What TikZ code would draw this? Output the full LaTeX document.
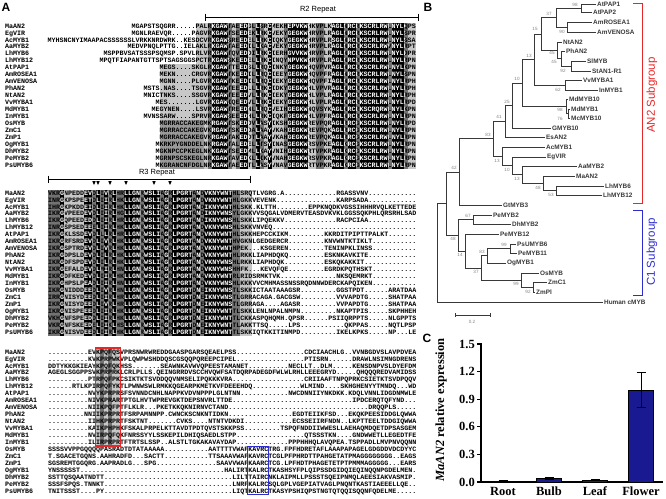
\documentclass[tikz,border=0pt]{standalone}
\usepackage{fontspec}
\setmainfont{Liberation Serif}
\setsansfont{Liberation Sans}
\newfontfamily\seqfont{Liberation Mono}
\definecolor{shadelt}{gray}{0.78}
\definecolor{shademd}{gray}{0.6}
\definecolor{shadedk}{gray}{0.45}
\definecolor{an2red}{RGB}{230,40,40}
\definecolor{clblue}{RGB}{45,45,205}
\definecolor{barblue}{RGB}{25,25,145}
\definecolor{treegray}{gray}{0.22}
\tikzset{
  seqtext/.style={font=\seqfont\bfseries\fontsize{6.67}{7}\selectfont, inner sep=0pt, text height=4.6pt, text depth=0.4pt},
  leaf/.style={font=\sffamily\bfseries\fontsize{6.4}{7}\selectfont, text=treegray, anchor=west, inner sep=1.2pt},
  boot/.style={font=\sffamily\fontsize{4.6}{5}\selectfont, text=gray, inner sep=0pt},
  branch/.style={draw=treegray, line width=0.75pt},
  panel/.style={font=\sffamily\bfseries\fontsize{12}{14}\selectfont, inner sep=0pt},
}
% alignment rows, stored by block and row
\newcommand{\defseq}[3]{\expandafter\def\csname seq#1#2\endcsname{#3}}
\def\taxa{MaAN2,EgVIR,AcMYB1,AaMYB2,LhMYB6,LhMYB12,AtPAP1,AmROSEA1,AmVENOSA,PhAN2,NtAN2,VvMYBA1,MdMYB1,InMYB1,OsMYB,ZmC1,ZmP1,OgMYB1,DhMYB2,PeMYB2,PsUMYB6}
% block 1 (R2)
\defseq{A}{1}{MGAPSTSQGRR.....PALRKGAWTAEEDGLLSRCMEKHEPVKWHKVPLKAGLNRCRKSCRLRWLNYLQPS}
\defseq{A}{2}{MGNLRAEVQR.....PAGVRKGAWTSEEDEKLRKCVEKYGEGKWHRVPLRAGLNRCRKSCRLRWLNYLSPR}
\defseq{A}{3}{MYHSNCNYIMAAPACSSSSSSLVRKKNRDWRK..KESDCVRKGAWSREEDELLRKCIQKYGEGKWHRVPLRSGLNRCRKSCRLRWLNYLSSA}
\defseq{A}{4}{MEDVPNQLPTTG..IELAKLRKGAWTAEEDILLKACVEKYGEGKWHRVPLRAGLNRCRKSCRLRWVNYLRPT}
\defseq{A}{5}{MSPPBVSATSSSPSQMSP.SPVLRLVRKGAWTQVEDDILRKCIERHGVVKWHRVPLRAGLNRCRKSCRLRWLNYLDPR}
\defseq{A}{6}{MPQTFIAPANTGTTSPTSAGSGGSPCTRKGAWSKEEDELLRKCINQYNPVKWHRVPLRAGLNRCRKSCRLRWLNYLRPN}
\defseq{A}{7}{MEGS....SKGLRKGAWTTEEDSLLRQCINKYGEGKWHQVPVRAGLNRCRKSCRLRWLNYLKPN}
\defseq{A}{8}{MEKN....CRGVRKGAWTKEEDILLRQCIEEYGEGKWHQVPFRAGLNRCRKSCRLRWLNYLSPN}
\defseq{A}{9}{MGNN....PLGVRKGAWTKEEDILLRQCIEKYGEGKWHQVPFIAGLNRCRKSCRLRWLNYLRPH}
\defseq{A}{10}{MSTS.NAS....TSGVRKGAWTEEEDLLLRKCIDKYGEGKWHLVPVRAGLNRCRKSCRLRWLNYLRPH}
\defseq{A}{11}{MNICTNKS....SSGVRKGAWTEEEDVLLRKCIEKYGEGKWHLVPLRAGLNRCRKSCRLRWLNYLRPH}
\defseq{A}{12}{MES.......LGVRKGAWIQEEDVLLRKCIEKYGEGKWHLVPLRAGLNRCRKSCRLRWLNYLRPD}
\defseq{A}{13}{MEGYNEN....LSVRKGAWTREEDNLLRQCVEIHGEGKWNQVSYKAGLNRCRKSCRQRWLNYLKPN}
\defseq{A}{14}{MVNSSARW....SPRVRKGAWSEEEDHLLRKCIQKFGEGKWHLVPFRAGLNRCRKSCRLRWLNYLRPN}
\defseq{A}{15}{MGRRACCAKEGMKRGAWTSKEDDVLASYIKSHGEGKWREVPQRAGLRRCGKSCRLRWLNYLRPD}
\defseq{A}{16}{MGRRACCAKEGVKRGAWTSKEDDALAAYVKAHGEGKWREVPQKAGLRRCGKSCRLRWLNYLRPN}
\defseq{A}{17}{MGRRACCAKEGVKRGAWTAKEDDTLAAYVKAHGEGKWREVPQKAGLRRCGKSCRLRWLNYLRPN}
\defseq{A}{18}{MKRKPYGNDDELNKRGAWTALEDELLTSYINASGEGKWRSVPKEAGLKRCGKSCRLRWLNYLRPN}
\defseq{A}{19}{MGKNPCCPKEGLNKKGAWTSEEDMLLKAYVNIHGEGKWRTVPKRAGLKRCGKSCRLRWLNYLRPN}
\defseq{A}{20}{MGRNPSCSKEGLNRKGAWTAVEDKLLIKYVNAHGEGKWRSVPKRAGLKRCGKSCRLRWLNYLRPN}
\defseq{A}{21}{MKGRANCNFDGLNRKGAWTAEEDTLLASYVNAVGEGKWRTVPKRAGLKRCGKSCRLRWLNYLRPN}
% block 2 (R3)
\defseq{B}{1}{VKRGNPEDDEVDLIVRLHRLLGNRWSLIAGRLPGRTANDVKNYWNTHL%
SRQTLVGRG.A...........%
..RGASSVNV............}
\defseq{B}{2}{INRGKPSPEETDLIIRLHKLLGNRWSLIAGRLPGRTANDVKNYWNTHL%
GKKVEVENK.............%
..KARPSADA............}
\defseq{B}{3}{IHRGKPKDDEIDLIIRLHKLLGNRWSLIAGRLPGRTANDIKNYWNTHL%
SKK.KLTTH........EPPKN%
QDKVGSSIHHHRVQLKETTEDE}
\defseq{B}{4}{IKRGVPEEDEVDLIIRLHGLLGNRWSLIAGRLPGRTANDIKNYWNSYL%
GKKVVSQGALVDMERVTEASDV%
KVKLGGSSQKPHLQRSRHLSAD}
\defseq{B}{5}{IKRGQPEEDEDDLIIRLHRLLGNRWSLIAGRLPGRTANDIKNYWNSHL%
SKKLIPQEKKV...........%
..RACPCIAA............}
\defseq{B}{6}{INRGSPSEDEEELIIRLHKLLGNRWSLIAGRLPGRTANDVKNYWNSHL%
SKKVNVEQ..............%
......................}
\defseq{B}{7}{IKRGKLSSDEVDLLLRLHRLLGNRWSLIAGRLPGRTANDVKNYWNTHL%
SKKHEPCCKIKM.........K%
KRDITPIPTTPALKT.......}
\defseq{B}{8}{IKRGRFSRDEVDLIVRLHKLLGNRWSLIAGRLPGRTANDVKNYWNTHV%
GKNLGEDGERCR.........K%
NVWNTKTIKLT...........}
\defseq{B}{9}{IKRGSPTRDEVDLIVRLHKLLGNRWSLIAGRLPGRTANDVKNYWNTHP%
EK...KSGEREN.........T%
ENINPKLINSS...........}
\defseq{B}{10}{IKRGDPSLDEVDLILRLHKLLGNRWSLIAGRLPGRTANDVKNYWNTHL%
RKKLIAPHDQKQ.........E%
SKNKAVKITE............}
\defseq{B}{11}{IKRGDFSPDEVDLILRLHKLLGNRWSLIAGRLPGRTANDVKNYWNSHL%
RKKLIAPHDQK..........E%
SKQKAKKIT.............}
\defseq{B}{12}{IKRGEFALDEVDLMIRLHNLLGNRWSLIAGRLPGRTANDVKNYWNSHH%
FK...KEVQFQE.........E%
GRDKPQTHSKT...........}
\defseq{B}{13}{IKRGDFKEDEVDLIIRLHKLLGNRWSLIAGRLPGRTANAVKNYWNTRL%
RIDSRMKTVK............%
..NKSQEMRKT...........}
\defseq{B}{14}{IKRGHPSLPEADLIIRLHNLLGNRWSLIAGRLPGRTANDVKNYWNSHL%
KKKVVCMHMASSNSSRQDNNWD%
ERCKAPQIKEN...........}
\defseq{B}{15}{IKRGNIDDDEEDLIVRLHNLLGNRWSLIAGRLPGRTDNEIKNYWNSTL%
SKKICTAATAAAGSR.......%
..GGSTPDT......ARATDAA}
\defseq{B}{16}{IRRGNISYDEEDLIIRLHRLLGNRWSLIAGRLPGRTDNEIKNYWNSTL%
GRRACAGA.GACGSW.......%
..VVVAPDTG.....SHATPAA}
\defseq{B}{17}{IKRGNISYDEEDLIVRLHRLLGNRWSLIAGRLPGRTDNEIKNYWNSTL%
GRRAGA....AGASR.......%
..VVPAPDTG.....SHATPAA}
\defseq{B}{18}{IKRGNISPEEEDLIIRLHKLLGNRWSLIAGRLPGRTDNEIKNYWNTTL%
SKKLENLNPALNMPN.......%
..NKAPTPIS.....SKPHHEH}
\defseq{B}{19}{VKHGNFSPEEDDLIIRLHKLLGNRWSLIAGRLPGRTDNEIKNYWNTTL%
CKKASPQHQMH.QPSR......%
PSIIQRPPTS.....NLGPPTS}
\defseq{B}{20}{VKRGNFSKEEDELIIKLHSLLGNRWSLIAGRLPGRTDNEIKNYWNTTL%
AKKTTSQ.....LPS.......%
....QKPPAS.....NQTLPSP}
\defseq{B}{21}{IKRGNISVDEEDLIIRLHKLLGNRWSLIAGRLPGRTDNEIKNYWNTTL%
SKKIQTKKITINMPD.......%
..IKELKPKS.....NP...LE}
% block 3 (C-terminal)
\defseq{C}{1}{..........EVKPQFQS%
VPRSNWRWREDDGAASPGARSQEAELPSS.................CDCIAA%
CHLG..VVNBGDVSLAVPDVEA}
\defseq{C}{2}{..........KVKPRPWK%
VPLQWPWSHDDQSCGSQQPQREEPCIPEL.................PTISRN%
......DRAWLNSIMNGDRENS}
\defseq{C}{3}{DDTYKKGKIEAYKPQFQK%
HSS.......SEAWNKAVWVQPEESTAMANET..........NECLLT..DL%
M.....KENSDNPVSLDYEFDM}
\defseq{C}{4}{AGEGLSGGPPSVKPRPRK%
LCRLPLLS.QEINGRRDVSCCHVQWFSATDQRPADEGDFWLWLRHLLEEEGR%
YD.....QHQQQREDVAMIDSS}
\defseq{C}{5}{..........PTRPQFPK%
CSIKTKTSVDDQQVNMSELIPQKKKVRA..................CRIIAA%
FTNPQPRKCSIETKTSVDPQQV}
\defseq{C}{6}{......RTLKPIRPQFYK%
TLPWNWSWLRMKKQGEARPKMETKVFDEEEHDQ............WLMIND.%
...SKHGHENYYTMNDQ...WD}
\defseq{C}{7}{..........NVYKPRPR%
SFSVNNDCNHLNAPPKVDVNPPPLGLNTNN............NWCDNNIIYN%
KDKK.KDQLVNNLIDGDNMWLE}
\defseq{C}{8}{..........NIVKPRAR%
TPTGLHVTWPREVGKTDEPSNVRLTTDE........................%
......IPDCERQTQFYND...}
\defseq{C}{9}{..........NIIKPQFP%
TFLKLR...PKETKKQKNIRNVCTAND.........................%
..........DRQQPLS.....}
\defseq{C}{10}{.........NNIIKPRPR%
TFSRPAMNNPP.CWNCKSCNKNTIDKN................EGDTEIIKF%
SD...EKQKPEESIDDGLQWWA}
\defseq{C}{11}{..........IIHKPRPR%
TFSKTNT.......CVKS....NTNTVDKDI............ECSSEIIRF%
NDN..LKPTTEELTDDGIQWWA}
\defseq{C}{12}{..........KAIKPHPH%
KFSKALPRPELKTTAVDTPDTQVSTSKKPSS.........TSPQFNDDIIWW%
ESLLAEHAQMDQETDPSASGEM}
\defseq{C}{13}{..........NVIRPQFQ%
KFNRSSYYLSSKEPILDHIQSAEDLSTPP.................QTSSST%
KN....GNDWWETLLEGEDTFE}
\defseq{C}{14}{..........ILIRPRPR%
TFTRTSLSSP..ALSTLTGKAKAVAYDAP.............PPPHHHQLAV%
QPEA.TSPPADLLMVPNVQQNN}
\defseq{C}{15}{SSSSVVPPGQQQQPASRA%
DTDTATAAAAA...........AATTTTVWAFKAVRCTRG.FPFHDRETAFL%
AAAPAPAGELGDGDDVDCDYYC}
\defseq{C}{16}{T.SGACETGQNS.AAHRA%
DFD...SACTT...........TTSAAAVWAFKAVRCTCGLPFPHRDTTPAH%
GETATPMAGGGGGGGG..EAGS}
\defseq{C}{17}{SGSREMTGGQRG.AAPRA%
DLG...SPG...............SAAVVWAFKAARCTCG.LPFHDTPHAGE%
TETPTPMMMAGGGGG...EARS}
\defseq{C}{18}{YNSSSSST..........%
..........................HALIRTKALRCTKASHSYFPLQIPSS%
DGIDQIEQINQQNPGDELMEN.}
\defseq{C}{19}{SSTTQSQAATNDTT....%
............................LILTTAIRCNKLAIPMLLPSSSTS%
QEIPNMQLAEESIAKVASMIP.}
\defseq{C}{20}{SSSFSPQS.TNNKT....%
............................LNRFKALRCSQLGPLVGEPIATVA%
GLPNQNTKASTIAEEELLQE..}
\defseq{C}{21}{TNITSSST....PY....%
............................LIQTKALRCTKASYPSHIQPSTNG%
TQTQQISQQNFQDELME.....}
% fully conserved columns (white on black)
\def\blackA{41/44,48/49,52/52,55/55,60/64,71/73,75/76,78/84,86/88}
\def\blackB{3/3,9/10,12/12,14/14,16/16,19/22,24/27,29/29,31/35,37/37,39/45}

\begin{document}
\begin{tikzpicture}[x=1pt, y=-1pt,
    repbar/.style={line width=0.9pt},
    replabel/.style={font=\sffamily\fontsize{7.5}{8}\selectfont, inner sep=0pt},
    axisline/.style={line width=1.1pt},
    ticklab/.style={font=\bfseries\fontsize{12.5}{14}\selectfont, inner sep=0pt},
    bar/.style={fill=barblue, draw=black, line width=0.6pt},
    errbar/.style={line width=0.9pt}]
  \useasboundingbox (0,0) rectangle (666,498);

  % Panel labels
  \node[panel] (pA) at (6,7) {A};
  \node[panel] (pB) at (428,7) {B};
  \node[panel] (pC) at (427,338) {C};

  % ---------- Block 1: R2 repeat ----------
  \fill[shadelt] (48+4*37,22.5) rectangle (416,64.2);
  \fill[shadelt] (48+4*28,64.2) rectangle (416,168.5);
  \fill[shademd] (48+4*28,119.8) rectangle (48+4*39,168.5);
  \foreach \a/\b in {40/40,45/45,47/47,51/51,53/53,59/59,67/68,74/74,77/77,85/85,89/89}
    \fill[shadedk] (48+4*\a,22.5) rectangle (52+4*\b,168.5);
  \foreach \a/\b in \blackA
    \fill (48+4*\a,22.5) rectangle (52+4*\b,168.5);
  \foreach \n [count=\i] in \taxa {
    \pgfmathsetmacro\yy{26+6.95*(\i-1)}
    \node[seqtext, anchor=west] (nA\i) at (5,\yy) {\n};
    \node[seqtext, anchor=east] (sA\i) at (416,\yy) {\csname seqA\i\endcsname};
  }
  \begin{scope}
    \clip \foreach \a/\b in \blackA {(48+4*\a,22.5) rectangle (52+4*\b,168.5)};
    \foreach \i in {1,...,21} {
      \pgfmathsetmacro\yy{26+6.95*(\i-1)}
      \node[seqtext, anchor=east, text=white] (wA\i) at (416,\yy) {\csname seqA\i\endcsname};
    }
  \end{scope}
  % R2 bar
  \coordinate (r2a) at (205,17);
  \coordinate (r2b) at (418,17);
  \draw[repbar] (r2a) -- (r2b);
  \draw[repbar] (205,13.5) -- (205,20.5);
  \draw[repbar] (418,13.5) -- (418,20.5);
  \node[replabel] (r2lab) at (318,10) {R2 Repeat};

  % ---------- Block 2: R3 repeat ----------
  \fill[shadelt] (48,189.5) rectangle (48+4*51,335.5);
  \foreach \a/\b in {0/2,11/11,13/13,15/15,17/18,23/23,28/28,30/30,36/36,38/38,46/47}
    \fill[shadedk] (48+4*\a,189.5) rectangle (52+4*\b,335.5);
  \foreach \a/\b in \blackB
    \fill (48+4*\a,189.5) rectangle (52+4*\b,335.5);
  \foreach \n [count=\i] in \taxa {
    \pgfmathsetmacro\yy{193+6.95*(\i-1)}
    \node[seqtext, anchor=west] (nB\i) at (5,\yy) {\n};
    \node[seqtext, anchor=west] (sB\i) at (48,\yy) {\csname seqB\i\endcsname};
  }
  \begin{scope}
    \clip \foreach \a/\b in \blackB {(48+4*\a,189.5) rectangle (52+4*\b,335.5)};
    \foreach \i in {1,...,21} {
      \pgfmathsetmacro\yy{193+6.95*(\i-1)}
      \node[seqtext, anchor=west, text=white] (wB\i) at (48,\yy) {\csname seqB\i\endcsname};
    }
  \end{scope}
  % R3 bar and bHLH motif marks
  \coordinate (r3a) at (48,179);
  \coordinate (r3b) at (250,179);
  \draw[repbar] (r3a) -- (r3b);
  \draw[repbar] (48,175.5) -- (48,182.5);
  \draw[repbar] (250,175.5) -- (250,182.5);
  \node[replabel] (r3lab) at (157,173) {R3 Repeat};
  \foreach \x in {94,98,110,126,154,170}
    \fill (\x-1.7,181.2) -- (\x+1.7,181.2) -- (\x,185) -- cycle;

  % ---------- Block 3: C-terminal ----------
  \fill[shadelt] (96,348.5) rectangle (120,445.8);
  \fill[shadedk] (100,348.5) rectangle (104,445.8);
  \fill[shadedk] (108,348.5) rectangle (112,445.8);
  \foreach \n [count=\i] in \taxa {
    \pgfmathsetmacro\yy{352+6.95*(\i-1)}
    \node[seqtext, anchor=west] (nC\i) at (5,\yy) {\n};
    \node[seqtext, anchor=west] (sC\i) at (48,\yy) {\csname seqC\i\endcsname};
  }
  \draw[an2red, line width=1.1pt] (95.5,348) rectangle (120.5,446);
  \draw[clblue, line width=1.1pt] (247.5,446.5) rectangle (268.5,494.5);

  % ---------- Panel B: tree ----------
  \foreach \n/\t/\x/\y in {AtPAP1/AtPAP1/597/4, AtPAP2/AtPAP2/593/12, AmROSEA1/AmROSEA1/593/22,
      AmVENOSA/AmVENOSA/597/32, NtAN2/NtAN2/563/42, PhAN2/PhAN2/566/51, SlMYB/SlMYB/587/61,
      StAN1R1/StAN1-R1/592/71, VvMYBA1/VvMYBA1/583/80, InMYB1/InMYB1/599/90,
      MdMYB10/MdMYB10/569/99, MdMYB1/MdMYB1/571/109, McMYB10/McMYB10/571/118,
      GMYB10/GMYB10/552/128, EsAN2/EsAN2/546/137, AcMYB1/AcMYB1/546/147, EgVIR/EgVIR/547/157,
      AaMYB2/AaMYB2/578/166, MaAN2/MaAN2/576/176, LhMYB6/LhMYB6/605/186, LhMYB12/LhMYB12/603/195,
      GtMYB3/GtMYB3/503/205, PeMYB2/PeMYB2/493/215, DhMYB2/DhMYB2/512/224, PeMYB12/PeMYB12/500/234,
      PsUMYB6/PsUMYB6/517/244, PeMYB11/PeMYB11/518/253, OgMYB1/OgMYB1/507/263, OsMYB/OsMYB/540/273,
      ZmC1/ZmC1/548/282, ZmPl/ZmPl/536/292, HumancMYB/Human cMYB/604/302}
    \node[leaf] (\n) at (\x-1.2,\y) {\t};

  % internal nodes
  \coordinate (n98) at (581,8);
  \coordinate (n90) at (567,27);
  \coordinate (n37) at (556,17.5);
  \coordinate (n92) at (571,66);
  \coordinate (n45b) at (561,58.5);
  \coordinate (n45a) at (557,50.3);
  \coordinate (n15) at (541,33.9);
  \coordinate (n62) at (565,85);
  \coordinate (n13) at (534,59.5);
  \coordinate (nMdb) at (568,113.5);
  \coordinate (nMd) at (566,106.3);
  \coordinate (n10) at (522,82.9);
  \coordinate (n25) at (512,105.4);
  \coordinate (n41) at (505,121.2);
  \coordinate (n53) at (556,190.5);
  \coordinate (n48) at (543,183.3);
  \coordinate (n13c) at (522,174.6);
  \coordinate (n10b) at (512,165.8);
  \coordinate (n13b) at (502,156.4);
  \coordinate (n83) at (493,138.8);
  \coordinate (n42) at (459,171.9);
  \coordinate (n67) at (473,219.5);
  \coordinate (n99a) at (510,248.5);
  \coordinate (n83b) at (487,255.8);
  \coordinate (n92b) at (533,287);
  \coordinate (n99b) at (521,280);
  \coordinate (n37b) at (481,267.9);
  \coordinate (n14) at (465,250.9);
  \coordinate (n48b) at (458,235.2);
  \coordinate (nAC) at (446,203.6);
  \coordinate (root) at (437,252.8);

  \foreach \pa/\ch in {n98/AtPAP1.west, n98/AtPAP2.west, n90/AmROSEA1.west, n90/AmVENOSA.west,
      n37/n98, n37/n90, n92/SlMYB.west, n92/StAN1R1.west, n45b/PhAN2.west, n45b/n92,
      n45a/NtAN2.west, n45a/n45b, n15/n37, n15/n45a, n62/VvMYBA1.west, n62/InMYB1.west,
      n13/n15, n13/n62, nMdb/MdMYB1.west, nMdb/McMYB10.west, nMd/MdMYB10.west, nMd/nMdb,
      n10/n13, n10/nMd, n25/n10, n25/GMYB10.west, n41/n25, n41/EsAN2.west,
      n53/LhMYB6.west, n53/LhMYB12.west, n48/MaAN2.west, n48/n53, n13c/AaMYB2.west, n13c/n48,
      n10b/EgVIR.west, n10b/n13c, n13b/AcMYB1.west, n13b/n10b, n83/n41, n83/n13b,
      n42/n83, n42/GtMYB3.west, n67/PeMYB2.west, n67/DhMYB2.west, n99a/PsUMYB6.west,
      n99a/PeMYB11.west, n83b/n99a, n83b/OgMYB1.west, n92b/ZmC1.west, n92b/ZmPl.west,
      n99b/OsMYB.west, n99b/n92b, n37b/n83b, n37b/n99b, n14/PeMYB12.west, n14/n37b,
      n48b/n67, n48b/n14, nAC/n42, nAC/n48b, root/nAC, root/HumancMYB.west}
    \draw[branch] (\pa) |- (\ch);

  % bootstrap values
  \foreach \v/\x/\y [count=\k] in {98/575/5, 37/549/14, 90/562/32, 15/535/29, 45/552/53,
      45/554/62, 92/563/71, 13/529/56, 62/558/90, 10/517/79, 25/507/102, 98/560/110,
      76/560/119, 41/499/117, 83/488/135, 13/497/161, 10/507/170, 13/517/179, 48/538/188,
      53/551/195, 42/454/168, 67/468/216, 48/453/239, 99/504/245, 83/482/252, 14/460/255,
      37/476/272, 99/516/284, 92/528/292}
    \node[boot] (bs\k) at (\x,\y) {\v};

  % scale bar
  \coordinate (sba) at (455,315);
  \coordinate (sbb) at (490,315);
  \draw[branch] (sba) -- (sbb);
  \draw[branch] (455,313) -- (455,317);
  \draw[branch] (490,313) -- (490,317);
  \node[boot] (sblab) at (472,322) {0.2};

  % subgroup brackets
  \draw[an2red, line width=1pt] (633,3) -- (642,3) -- (642,203) -- (633,203);
  \node[rotate=90, text=an2red, font=\sffamily\fontsize{11.5}{13}\selectfont] (an2lab) at (652,95) {AN2 Subgroup};
  \draw[clblue, line width=1pt] (633,210) -- (642,210) -- (642,295) -- (633,295);
  \node[rotate=90, text=clblue, font=\sffamily\fontsize{11.5}{13}\selectfont] (c1lab) at (652,252) {C1 Subgroup};

  % ---------- Panel C: expression ----------
  % Axes
  \coordinate (ax0) at (481,482);
  \draw[axisline] (481,343) -- (ax0) -- (663,482);
  % Y ticks
  \foreach \v/\t [count=\k] in {0/0.0, 0.3/0.3, 0.6/0.6, 0.9/0.9, 1.2/1.2, 1.5/1.5} {
    \draw[axisline] (477,482-92*\v) -- (481,482-92*\v);
    \node[ticklab, anchor=east] (yt\k) at (475,482-92*\v) {\t};
  }
  \node[ticklab, rotate=90] (ylab) at (441,410) {\textit{MaAN2} relative expression};
  % Bars with error bars
  \foreach \x/\v/\e/\t [count=\k] in {503/0.012/0.003/Root, 549/0.04/0.012/Bulb,
      595/0.022/0.004/Leaf, 641/1.0/0.19/Flower} {
    \filldraw[bar] (\x-12.5,482) rectangle (\x+12.5,482-92*\v);
    \draw[errbar] (\x,482-92*\v+92*\e) -- (\x,482-92*\v-92*\e);
    \draw[errbar] (\x-4.5,482-92*\v-92*\e) -- (\x+4.5,482-92*\v-92*\e);
    \draw[errbar] (\x-4.5,482-92*\v+92*\e) -- (\x+4.5,482-92*\v+92*\e);
    \node[ticklab, anchor=base] (cat\k) at (\x,495.5) {\t};
  }
\end{tikzpicture}
\end{document}
